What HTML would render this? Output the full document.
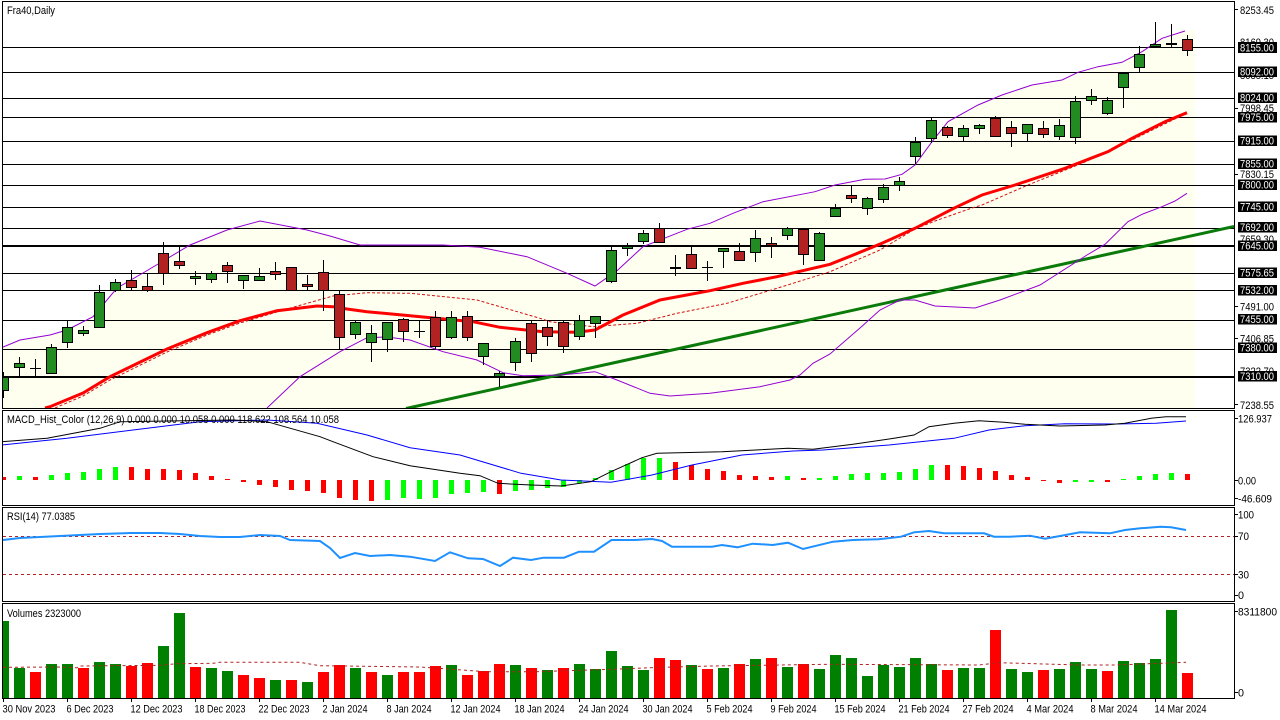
<!DOCTYPE html>
<html><head><meta charset="utf-8"><style>
html,body{margin:0;padding:0;background:#fff;}
svg{display:block;}
text{font-family:"Liberation Sans",Arial,sans-serif;font-size:11px;fill:#000;}
.g{fill:#228b22;stroke:#000;stroke-width:1;}
.r{fill:#b22222;stroke:#000;stroke-width:1;}
.w{stroke:#000;stroke-width:1;}
.vg{fill:#008000;}
.vr{fill:#ff0000;}
.hg{fill:#00ff00;}
.hr{fill:#ff0000;}
.lbl{fill:#fff;}
</style></head><body>
<svg width="1280" height="720" viewBox="0 0 1280 720" xmlns="http://www.w3.org/2000/svg">
<defs>
<clipPath id="cm"><rect x="3" y="2" width="1231" height="406"/></clipPath>
<clipPath id="cmacd"><rect x="3" y="411" width="1231" height="94"/></clipPath>
<clipPath id="cv"><rect x="3" y="604" width="1231" height="94"/></clipPath>
</defs>
<rect width="1280" height="720" fill="#fff"/>

<!-- MAIN PANEL -->
<g clip-path="url(#cm)">
<polygon fill="#fffff0" points="2,347.5 20,340 50,335 67,330 93,316.7 117,288 143,273 190,245 227,230 260,221 307,230 330,236 360,245 443,245 480,247.3 527,256.7 567,273.3 595,286 617,270.7 643,246.7 687,229.3 710,223.3 733,213.3 763,201.7 815,191.7 835,185 865,179.3 885,179 902,174.3 915,165 932,141.7 948,121.7 978,105 1002,95 1032,85 1062,80 1078,72.3 1098,66.7 1122,62.3 1142,51.7 1162,38.3 1185,31 1195,30 1195,408 2,408"/>
<g stroke="#000" stroke-width="1" shape-rendering="crispEdges">
<line x1="2" y1="47.5" x2="1234" y2="47.5"/>
<line x1="2" y1="72.5" x2="1234" y2="72.5"/>
<line x1="2" y1="98.5" x2="1234" y2="98.5"/>
<line x1="2" y1="117.5" x2="1234" y2="117.5"/>
<line x1="2" y1="141.5" x2="1234" y2="141.5"/>
<line x1="2" y1="164.5" x2="1234" y2="164.5"/>
<line x1="2" y1="185.5" x2="1234" y2="185.5"/>
<line x1="2" y1="207.5" x2="1234" y2="207.5"/>
<line x1="2" y1="228.5" x2="1234" y2="228.5"/>
<line x1="2" y1="246" x2="1234" y2="246" stroke-width="2"/>
<line x1="2" y1="273.5" x2="1234" y2="273.5"/>
<line x1="2" y1="290.5" x2="1234" y2="290.5"/>
<line x1="2" y1="320.5" x2="1234" y2="320.5"/>
<line x1="2" y1="349.5" x2="1234" y2="349.5"/>
<line x1="2" y1="377" x2="1234" y2="377" stroke-width="2"/>
</g>
<line x1="406" y1="408.5" x2="1234" y2="226.5" stroke="#0a7a0a" stroke-width="3"/>
<polyline fill="none" stroke="#9400d3" stroke-width="1" points="2,347.5 20,340 50,335 67,330 93,316.7 117,288 143,273 190,245 227,230 260,221 307,230 330,236 360,245 443,245 480,247.3 527,256.7 567,273.3 595,286 617,270.7 643,246.7 687,229.3 710,223.3 733,213.3 763,201.7 815,191.7 835,185 865,179.3 885,179 902,174.3 915,165 932,141.7 948,121.7 978,105 1002,95 1032,85 1062,80 1078,72.3 1098,66.7 1122,62.3 1142,51.7 1162,38.3 1185,31"/>
<polyline fill="none" stroke="#9400d3" stroke-width="1" points="267,408 300,376.7 340,351.7 367,337.7 387,337 410,340 443,351.7 477,360 503,372.7 523,375.7 560,375 595,371.7 617,380 650,393.3 670,396 710,393.3 760,386.7 790,380 800,375 813,363.3 830,354 860,328 880,310 900,300 915,300 935,306 975,308 1000,300 1040,285 1087,255 1105,244.3 1128,221.7 1142,214.3 1162,206.7 1175,201 1187,193.3"/>
<polyline fill="none" stroke="#d01010" stroke-width="1" stroke-dasharray="3,2" points="55,408 83,396 110,380 167,352 207,335 240,323 287,309 333,296 367,292.7 410,293.3 477,300 540,318.3 550,321.7 593,326.7 637,323.3 677,313.3 727,303.3 777,288.3 830,271.7 880,250 915,229 935,221 972,208 982,205 1028,185 1082,163.3 1115,148.3 1187,113"/>
<polyline fill="none" stroke="#ff0000" stroke-width="3" points="45,408 50,406.7 83,393 110,376.7 167,349 207,332.7 240,320.7 277,310.7 317,306 333,306.7 347,309 367,311.7 410,315.7 473,321.7 500,327.3 543,331.7 577,332.3 595,330 623,315 660,300 710,290.7 743,283.3 777,276.7 830,264.3 855,254.3 882,243.3 915,228.3 955,207.7 982,195 1015,185 1065,168.3 1108,151.7 1132,138.3 1165,121.7 1187,112.7"/>

<!-- candles -->
<g shape-rendering="crispEdges">
<line class="w" x1="3.5" y1="372" x2="3.5" y2="398"/><rect class="g" x="-1.5" y="377.5" width="10" height="13"/>
<line class="w" x1="19.5" y1="357" x2="19.5" y2="376"/><rect class="g" x="14.5" y="363.5" width="10" height="4"/>
<line class="w" x1="35.5" y1="359" x2="35.5" y2="376"/><line class="w" x1="30" y1="368.5" x2="41" y2="368.5"/>
<line class="w" x1="51.5" y1="344" x2="51.5" y2="373"/><rect class="g" x="46.5" y="347.5" width="10" height="26"/>
<line class="w" x1="67.5" y1="320" x2="67.5" y2="348"/><rect class="g" x="62.5" y="327.5" width="10" height="15"/>
<line class="w" x1="83.5" y1="326" x2="83.5" y2="336"/><rect class="g" x="78.5" y="330.5" width="10" height="3"/>
<line class="w" x1="99.5" y1="285" x2="99.5" y2="328"/><rect class="g" x="94.5" y="292.5" width="10" height="35"/>
<line class="w" x1="115.5" y1="279" x2="115.5" y2="292"/><rect class="g" x="110.5" y="282.5" width="10" height="8"/>
<line class="w" x1="131.5" y1="270" x2="131.5" y2="290"/><rect class="r" x="126.5" y="280.5" width="10" height="7"/>
<line class="w" x1="147.5" y1="273" x2="147.5" y2="292"/><rect class="r" x="142.5" y="286.5" width="10" height="4"/>
<line class="w" x1="163.5" y1="242" x2="163.5" y2="285"/><rect class="r" x="158.5" y="253.5" width="10" height="20"/>
<line class="w" x1="179.5" y1="246" x2="179.5" y2="269"/><rect class="r" x="174.5" y="261.5" width="10" height="4"/>
<line class="w" x1="195.5" y1="271" x2="195.5" y2="285"/><rect class="g" x="190.5" y="276.5" width="10" height="2"/>
<line class="w" x1="211.5" y1="271" x2="211.5" y2="283"/><rect class="g" x="206.5" y="273.5" width="10" height="6"/>
<line class="w" x1="227.5" y1="262" x2="227.5" y2="283"/><rect class="r" x="222.5" y="265.5" width="10" height="6"/>
<line class="w" x1="243.5" y1="275" x2="243.5" y2="289"/><rect class="g" x="238.5" y="275.5" width="10" height="5"/>
<line class="w" x1="259.5" y1="268" x2="259.5" y2="281"/><rect class="g" x="254.5" y="276.5" width="10" height="4"/>
<line class="w" x1="275.5" y1="262" x2="275.5" y2="280"/><rect class="r" x="270.5" y="271.5" width="10" height="3"/>
<line class="w" x1="291.5" y1="267" x2="291.5" y2="290"/><rect class="r" x="286.5" y="267.5" width="10" height="23"/>
<line class="w" x1="307.5" y1="275" x2="307.5" y2="290"/><rect class="r" x="302.5" y="284.5" width="10" height="2"/>
<line class="w" x1="323.5" y1="260" x2="323.5" y2="311"/><rect class="r" x="318.5" y="272.5" width="10" height="18"/>
<line class="w" x1="339.5" y1="290" x2="339.5" y2="349"/><rect class="r" x="334.5" y="294.5" width="10" height="43"/>
<line class="w" x1="355.5" y1="321" x2="355.5" y2="339"/><rect class="g" x="350.5" y="322.5" width="10" height="12"/>
<line class="w" x1="371.5" y1="325" x2="371.5" y2="362"/><rect class="g" x="366.5" y="333.5" width="10" height="9"/>
<line class="w" x1="387.5" y1="322" x2="387.5" y2="352"/><rect class="g" x="382.5" y="322.5" width="10" height="17"/>
<line class="w" x1="403.5" y1="318" x2="403.5" y2="342"/><rect class="r" x="398.5" y="319.5" width="10" height="12"/>
<line class="w" x1="419.5" y1="321" x2="419.5" y2="338"/><line class="w" x1="414" y1="331.5" x2="425" y2="331.5"/>
<line class="w" x1="435.5" y1="311" x2="435.5" y2="349"/><rect class="r" x="430.5" y="317.5" width="10" height="29"/>
<line class="w" x1="451.5" y1="311" x2="451.5" y2="339"/><rect class="g" x="446.5" y="317.5" width="10" height="20"/>
<line class="w" x1="467.5" y1="311" x2="467.5" y2="341"/><rect class="r" x="462.5" y="316.5" width="10" height="21"/>
<line class="w" x1="483.5" y1="343" x2="483.5" y2="365"/><rect class="g" x="478.5" y="343.5" width="10" height="13"/>
<line class="w" x1="499.5" y1="371" x2="499.5" y2="387"/><rect class="g" x="494.5" y="373.5" width="10" height="3"/>
<line class="w" x1="515.5" y1="338" x2="515.5" y2="371"/><rect class="g" x="510.5" y="341.5" width="10" height="21"/>
<line class="w" x1="531.5" y1="321" x2="531.5" y2="362"/><rect class="r" x="526.5" y="323.5" width="10" height="30"/>
<line class="w" x1="547.5" y1="321" x2="547.5" y2="346"/><rect class="r" x="542.5" y="327.5" width="10" height="9"/>
<line class="w" x1="563.5" y1="321" x2="563.5" y2="353"/><rect class="r" x="558.5" y="322.5" width="10" height="24"/>
<line class="w" x1="579.5" y1="315" x2="579.5" y2="340"/><rect class="g" x="574.5" y="320.5" width="10" height="16"/>
<line class="w" x1="595.5" y1="316" x2="595.5" y2="338"/><rect class="g" x="590.5" y="316.5" width="10" height="7"/>
<line class="w" x1="611.5" y1="247" x2="611.5" y2="283"/><rect class="g" x="606.5" y="250.5" width="10" height="31"/>
<line class="w" x1="627.5" y1="243" x2="627.5" y2="256"/><rect class="g" x="622.5" y="246.5" width="10" height="2"/>
<line class="w" x1="643.5" y1="230" x2="643.5" y2="244"/><rect class="g" x="638.5" y="233.5" width="10" height="8"/>
<line class="w" x1="659.5" y1="223" x2="659.5" y2="243"/><rect class="r" x="654.5" y="228.5" width="10" height="14"/>
<line class="w" x1="675.5" y1="255" x2="675.5" y2="276"/><line x1="670" y1="268" x2="681" y2="268" stroke="#000" stroke-width="2"/>
<line class="w" x1="691.5" y1="247" x2="691.5" y2="269"/><rect class="r" x="686.5" y="254.5" width="10" height="14"/>
<line class="w" x1="707.5" y1="261" x2="707.5" y2="281"/><line class="w" x1="702" y1="267.5" x2="713" y2="267.5"/>
<line class="w" x1="723.5" y1="248" x2="723.5" y2="268"/><rect class="g" x="718.5" y="248.5" width="10" height="3"/>
<line class="w" x1="739.5" y1="243" x2="739.5" y2="261"/><rect class="r" x="734.5" y="251.5" width="10" height="9"/>
<line class="w" x1="755.5" y1="230" x2="755.5" y2="262"/><rect class="g" x="750.5" y="238.5" width="10" height="14"/>
<line class="w" x1="771.5" y1="237" x2="771.5" y2="258"/><rect class="r" x="766.5" y="243.5" width="10" height="2"/>
<line class="w" x1="787.5" y1="227" x2="787.5" y2="240"/><rect class="g" x="782.5" y="228.5" width="10" height="7"/>
<line class="w" x1="803.5" y1="229" x2="803.5" y2="265"/><rect class="r" x="798.5" y="229.5" width="10" height="25"/>
<line class="w" x1="819.5" y1="232" x2="819.5" y2="261"/><rect class="g" x="814.5" y="233.5" width="10" height="27"/>
<line class="w" x1="835.5" y1="204" x2="835.5" y2="216"/><rect class="g" x="830.5" y="208.5" width="10" height="8"/>
<line class="w" x1="851.5" y1="186" x2="851.5" y2="203"/><rect class="r" x="846.5" y="195.5" width="10" height="3"/>
<line class="w" x1="867.5" y1="197" x2="867.5" y2="215"/><rect class="g" x="862.5" y="198.5" width="10" height="10"/>
<line class="w" x1="883.5" y1="184" x2="883.5" y2="203"/><rect class="g" x="878.5" y="187.5" width="10" height="12"/>
<line class="w" x1="899.5" y1="177" x2="899.5" y2="191"/><rect class="g" x="894.5" y="181.5" width="10" height="4"/>
<line class="w" x1="915.5" y1="137" x2="915.5" y2="164"/><rect class="g" x="910.5" y="142.5" width="10" height="14"/>
<line class="w" x1="931.5" y1="118" x2="931.5" y2="143"/><rect class="g" x="926.5" y="120.5" width="10" height="18"/>
<line class="w" x1="947.5" y1="126" x2="947.5" y2="138"/><rect class="r" x="942.5" y="127.5" width="10" height="8"/>
<line class="w" x1="963.5" y1="125" x2="963.5" y2="141"/><rect class="g" x="958.5" y="128.5" width="10" height="8"/>
<line class="w" x1="979.5" y1="124" x2="979.5" y2="134"/><rect class="g" x="974.5" y="125.5" width="10" height="3"/>
<line class="w" x1="995.5" y1="116" x2="995.5" y2="136"/><rect class="r" x="990.5" y="118.5" width="10" height="18"/>
<line class="w" x1="1011.5" y1="121" x2="1011.5" y2="147"/><rect class="r" x="1006.5" y="127.5" width="10" height="6"/>
<line class="w" x1="1027.5" y1="124" x2="1027.5" y2="141"/><rect class="g" x="1022.5" y="124.5" width="10" height="9"/>
<line class="w" x1="1043.5" y1="121" x2="1043.5" y2="138"/><rect class="r" x="1038.5" y="128.5" width="10" height="6"/>
<line class="w" x1="1059.5" y1="119" x2="1059.5" y2="140"/><rect class="g" x="1054.5" y="125.5" width="10" height="11"/>
<line class="w" x1="1075.5" y1="96" x2="1075.5" y2="144"/><rect class="g" x="1070.5" y="101.5" width="10" height="36"/>
<line class="w" x1="1091.5" y1="89" x2="1091.5" y2="105"/><rect class="g" x="1086.5" y="96.5" width="10" height="4"/>
<line class="w" x1="1107.5" y1="97" x2="1107.5" y2="115"/><rect class="g" x="1102.5" y="100.5" width="10" height="13"/>
<line class="w" x1="1123.5" y1="72" x2="1123.5" y2="108"/><rect class="g" x="1118.5" y="73.5" width="10" height="14"/>
<line class="w" x1="1139.5" y1="46" x2="1139.5" y2="72"/><rect class="g" x="1134.5" y="54.5" width="10" height="13"/>
<line class="w" x1="1155.5" y1="22" x2="1155.5" y2="47"/><rect class="g" x="1150.5" y="44.5" width="10" height="2"/>
<line class="w" x1="1171.5" y1="24" x2="1171.5" y2="47"/><line x1="1166" y1="44" x2="1177" y2="44" stroke="#000" stroke-width="2"/>
<line class="w" x1="1187.5" y1="35" x2="1187.5" y2="56"/><rect class="r" x="1182.5" y="39.5" width="10" height="11"/>
</g>
</g>
<text x="7" y="14" textLength="48" lengthAdjust="spacingAndGlyphs">Fra40,Daily</text>

<!-- MACD PANEL -->
<g clip-path="url(#cmacd)" shape-rendering="crispEdges">
<rect class="hr" x="1" y="477" width="5" height="3"/>
<rect class="hg" x="17" y="476" width="5" height="4"/>
<rect class="hr" x="33" y="477" width="5" height="3"/>
<rect class="hg" x="49" y="475" width="5" height="5"/>
<rect class="hg" x="65" y="473" width="5" height="7"/>
<rect class="hg" x="81" y="472" width="5" height="8"/>
<rect class="hg" x="97" y="469" width="5" height="11"/>
<rect class="hg" x="113" y="467" width="5" height="13"/>
<rect class="hr" x="129" y="467" width="5" height="13"/>
<rect class="hr" x="145" y="469" width="5" height="11"/>
<rect class="hr" x="161" y="469" width="5" height="11"/>
<rect class="hr" x="177" y="470" width="5" height="10"/>
<rect class="hr" x="193" y="473" width="5" height="7"/>
<rect class="hr" x="209" y="476" width="5" height="4"/>
<rect class="hr" x="225" y="479" width="5" height="1"/>
<rect class="hr" x="241" y="480" width="5" height="2"/>
<rect class="hr" x="257" y="480" width="5" height="5"/>
<rect class="hr" x="273" y="480" width="5" height="7"/>
<rect class="hr" x="289" y="480" width="5" height="10"/>
<rect class="hr" x="305" y="480" width="5" height="11"/>
<rect class="hr" x="321" y="480" width="5" height="13"/>
<rect class="hr" x="337" y="480" width="5" height="18"/>
<rect class="hr" x="353" y="480" width="5" height="20"/>
<rect class="hr" x="369" y="480" width="5" height="21"/>
<rect class="hg" x="385" y="480" width="5" height="20"/>
<rect class="hg" x="401" y="480" width="5" height="18"/>
<rect class="hg" x="417" y="480" width="5" height="19"/>
<rect class="hg" x="433" y="480" width="5" height="18"/>
<rect class="hg" x="449" y="480" width="5" height="14"/>
<rect class="hg" x="465" y="480" width="5" height="13"/>
<rect class="hg" x="481" y="480" width="5" height="12"/>
<rect class="hr" x="497" y="480" width="5" height="14"/>
<rect class="hg" x="513" y="480" width="5" height="11"/>
<rect class="hg" x="529" y="480" width="5" height="10"/>
<rect class="hg" x="545" y="480" width="5" height="8"/>
<rect class="hg" x="561" y="480" width="5" height="7"/>
<rect class="hg" x="577" y="480" width="5" height="3"/>
<rect class="hg" x="593" y="478" width="5" height="2"/>
<rect class="hg" x="609" y="470" width="5" height="10"/>
<rect class="hg" x="625" y="464" width="5" height="16"/>
<rect class="hg" x="641" y="458" width="5" height="22"/>
<rect class="hg" x="657" y="458" width="5" height="22"/>
<rect class="hr" x="673" y="462" width="5" height="18"/>
<rect class="hr" x="689" y="465" width="5" height="15"/>
<rect class="hr" x="705" y="469" width="5" height="11"/>
<rect class="hr" x="721" y="471" width="5" height="9"/>
<rect class="hr" x="737" y="475" width="5" height="5"/>
<rect class="hr" x="753" y="476" width="5" height="4"/>
<rect class="hr" x="769" y="477" width="5" height="3"/>
<rect class="hg" x="785" y="476" width="5" height="4"/>
<rect class="hr" x="801" y="478" width="5" height="2"/>
<rect class="hg" x="817" y="478" width="5" height="2"/>
<rect class="hg" x="833" y="476" width="5" height="4"/>
<rect class="hg" x="849" y="474" width="5" height="6"/>
<rect class="hg" x="865" y="473" width="5" height="7"/>
<rect class="hg" x="881" y="473" width="5" height="7"/>
<rect class="hg" x="897" y="472" width="5" height="8"/>
<rect class="hg" x="913" y="469" width="5" height="11"/>
<rect class="hg" x="929" y="465" width="5" height="15"/>
<rect class="hr" x="945" y="465" width="5" height="15"/>
<rect class="hr" x="961" y="466" width="5" height="14"/>
<rect class="hr" x="977" y="468" width="5" height="12"/>
<rect class="hr" x="993" y="471" width="5" height="9"/>
<rect class="hr" x="1009" y="475" width="5" height="5"/>
<rect class="hr" x="1025" y="477" width="5" height="3"/>
<rect class="hr" x="1041" y="480" width="5" height="1"/>
<rect class="hr" x="1057" y="480" width="5" height="3"/>
<rect class="hg" x="1073" y="480" width="5" height="2"/>
<rect class="hg" x="1089" y="480" width="5" height="2"/>
<rect class="hr" x="1105" y="480" width="5" height="2"/>
<rect class="hg" x="1121" y="479" width="5" height="1"/>
<rect class="hg" x="1137" y="476" width="5" height="4"/>
<rect class="hg" x="1153" y="474" width="5" height="6"/>
<rect class="hg" x="1169" y="473" width="5" height="7"/>
<rect class="hr" x="1185" y="474" width="5" height="6"/>
</g>
<g clip-path="url(#cmacd)">
<polyline fill="none" stroke="#0000ff" stroke-width="1" points="2,445 67,438.3 133,430 200,421.7 267,420 317,423.3 367,435 410,447.7 460,455 521,473.3 561,480 611,482.3 652,475 692,465 742,455 793,451 823,450 889,445 954,438.3 989,430 1025,425.7 1065,423.7 1115,424 1156,423.3 1186,421"/>
<polyline fill="none" stroke="#000" stroke-width="1" points="2,441.7 47,438.3 100,428.3 120,421.7 233,420 267,421.7 320,436.7 333,441.7 373,456.7 410,465.7 460,473.3 480,475.7 498,483.3 531,485 561,486 591,481.7 611,471.7 642,457.7 657,453.3 722,451.7 788,448.3 813,449.3 853,444.3 894,438.3 914,435 929,426.7 954,423.3 979,420.7 1004,422.3 1025,424.3 1060,426 1105,425 1125,423.3 1151,418.3 1166,416.7 1186,416.7"/>
</g>
<text x="7" y="423" textLength="332" lengthAdjust="spacingAndGlyphs">MACD_Hist_Color (12,26,9) 0.000 0.000 10.058 0.000 118.622 108.564 10.058</text>

<!-- RSI PANEL -->
<line x1="3" y1="536.5" x2="1234" y2="536.5" stroke="#b22222" stroke-width="1" stroke-dasharray="3,3"/>
<line x1="3" y1="574.5" x2="1234" y2="574.5" stroke="#b22222" stroke-width="1" stroke-dasharray="3,3"/>
<polyline fill="none" stroke="#1e90ff" stroke-width="2" points="3,540 20,538 40,537 60,536 80,535 100,534 130,533 160,533 180,534 200,536 220,537 240,537 260,535 280,536 290,540 320,541 330,548 340,558 355,553 370,556 390,555 410,556.7 435,561 450,552.3 468,558.3 483,559 500,566 513,557.7 531,560 543.5,557.7 564,557.7 579,551.7 594,551.7 611.5,540 634,540 652,539 662,541 672,546.7 712,546.7 722,545 737.5,547.3 752.6,543.7 772.7,545 788,542.7 803,549 833,541.7 853,540 878.5,539.3 901,536.7 914,532.3 929,531 944,533.3 984,533.3 994,536.7 1009.5,536.7 1030,535.7 1045,538.7 1060,536 1080,532.3 1110,533.3 1125,530 1140.5,528.3 1160.6,526.7 1171,527.3 1186,530"/>
<text x="7" y="520" textLength="68" lengthAdjust="spacingAndGlyphs">RSI(14) 77.0385</text>

<!-- VOLUME PANEL -->
<g clip-path="url(#cv)" shape-rendering="crispEdges">
<rect class="vg" x="-2" y="621" width="11" height="77"/>
<rect class="vg" x="14" y="668" width="11" height="30"/>
<rect class="vr" x="30" y="672" width="11" height="26"/>
<rect class="vg" x="46" y="664" width="11" height="34"/>
<rect class="vg" x="62" y="664" width="11" height="34"/>
<rect class="vr" x="78" y="668" width="11" height="30"/>
<rect class="vg" x="94" y="662" width="11" height="36"/>
<rect class="vg" x="110" y="664" width="11" height="34"/>
<rect class="vr" x="126" y="666" width="11" height="32"/>
<rect class="vr" x="142" y="663" width="11" height="35"/>
<rect class="vg" x="158" y="646" width="11" height="52"/>
<rect class="vg" x="174" y="613" width="11" height="85"/>
<rect class="vr" x="190" y="667" width="11" height="31"/>
<rect class="vg" x="206" y="668" width="11" height="30"/>
<rect class="vg" x="222" y="671" width="11" height="27"/>
<rect class="vr" x="238" y="675" width="11" height="23"/>
<rect class="vr" x="254" y="678" width="11" height="20"/>
<rect class="vg" x="270" y="680" width="11" height="18"/>
<rect class="vr" x="286" y="680" width="11" height="18"/>
<rect class="vg" x="302" y="682" width="11" height="16"/>
<rect class="vr" x="318" y="672" width="11" height="26"/>
<rect class="vr" x="334" y="665" width="11" height="33"/>
<rect class="vg" x="350" y="668" width="11" height="30"/>
<rect class="vr" x="366" y="672" width="11" height="26"/>
<rect class="vg" x="382" y="675" width="11" height="23"/>
<rect class="vr" x="398" y="672" width="11" height="26"/>
<rect class="vr" x="414" y="672" width="11" height="26"/>
<rect class="vr" x="430" y="666" width="11" height="32"/>
<rect class="vg" x="446" y="665" width="11" height="33"/>
<rect class="vr" x="462" y="675" width="11" height="23"/>
<rect class="vr" x="478" y="671" width="11" height="27"/>
<rect class="vr" x="494" y="664" width="11" height="34"/>
<rect class="vg" x="510" y="665" width="11" height="33"/>
<rect class="vr" x="526" y="668" width="11" height="30"/>
<rect class="vg" x="542" y="670" width="11" height="28"/>
<rect class="vr" x="558" y="668" width="11" height="30"/>
<rect class="vg" x="574" y="664" width="11" height="34"/>
<rect class="vg" x="590" y="669" width="11" height="29"/>
<rect class="vg" x="606" y="651" width="11" height="47"/>
<rect class="vg" x="622" y="666" width="11" height="32"/>
<rect class="vg" x="638" y="670" width="11" height="28"/>
<rect class="vr" x="654" y="658" width="11" height="40"/>
<rect class="vr" x="670" y="660" width="11" height="38"/>
<rect class="vg" x="686" y="665" width="11" height="33"/>
<rect class="vr" x="702" y="669" width="11" height="29"/>
<rect class="vg" x="718" y="668" width="11" height="30"/>
<rect class="vr" x="734" y="664" width="11" height="34"/>
<rect class="vg" x="750" y="659" width="11" height="39"/>
<rect class="vr" x="766" y="658" width="11" height="40"/>
<rect class="vg" x="782" y="667" width="11" height="31"/>
<rect class="vr" x="798" y="664" width="11" height="34"/>
<rect class="vg" x="814" y="669" width="11" height="29"/>
<rect class="vg" x="830" y="655" width="11" height="43"/>
<rect class="vg" x="846" y="658" width="11" height="40"/>
<rect class="vg" x="862" y="676" width="11" height="22"/>
<rect class="vg" x="878" y="665" width="11" height="33"/>
<rect class="vg" x="894" y="667" width="11" height="31"/>
<rect class="vg" x="910" y="658" width="11" height="40"/>
<rect class="vg" x="926" y="664" width="11" height="34"/>
<rect class="vr" x="942" y="670" width="11" height="28"/>
<rect class="vg" x="958" y="668" width="11" height="30"/>
<rect class="vg" x="974" y="668" width="11" height="30"/>
<rect class="vr" x="990" y="630" width="11" height="68"/>
<rect class="vg" x="1006" y="669" width="11" height="29"/>
<rect class="vg" x="1022" y="672" width="11" height="26"/>
<rect class="vr" x="1038" y="670" width="11" height="28"/>
<rect class="vg" x="1054" y="669" width="11" height="29"/>
<rect class="vg" x="1070" y="662" width="11" height="36"/>
<rect class="vg" x="1086" y="669" width="11" height="29"/>
<rect class="vr" x="1102" y="671" width="11" height="27"/>
<rect class="vg" x="1118" y="661" width="11" height="37"/>
<rect class="vg" x="1134" y="663" width="11" height="35"/>
<rect class="vg" x="1150" y="659" width="11" height="39"/>
<rect class="vg" x="1166" y="610" width="11" height="88"/>
<rect class="vr" x="1182" y="673" width="11" height="25"/>
</g>
<polyline fill="none" stroke="#b22222" stroke-width="1" stroke-dasharray="3,3" points="3,667.3 57,667 77,667.7 80,666 160,665.3 177,663.7 213,663.3 220,662.3 300,662.3 320,665.7 420,667 485.6,671.7 536,671.7 611.5,669.3 662,667.3 712,666 828,664.3 979,665 999,662.7 1080,665 1115,665 1186,662.3"/>
<text x="7" y="617" textLength="74" lengthAdjust="spacingAndGlyphs">Volumes 2323000</text>

<!-- PANEL FRAMES -->
<g fill="none" stroke="#000" stroke-width="1" shape-rendering="crispEdges">
<rect x="2.5" y="1.5" width="1232" height="407"/>
<rect x="2.5" y="410.5" width="1232" height="95"/>
<rect x="2.5" y="507.5" width="1232" height="94"/>
<rect x="2.5" y="603.5" width="1232" height="95"/>
</g>

<!-- RIGHT AXIS main -->
<g stroke="#000" stroke-width="1" shape-rendering="crispEdges">
<line x1="1234" y1="9.5" x2="1238" y2="9.5"/>
<line x1="1234" y1="108.5" x2="1238" y2="108.5"/>
<line x1="1234" y1="174.5" x2="1238" y2="174.5"/>
<line x1="1234" y1="306.5" x2="1238" y2="306.5"/>
<line x1="1234" y1="338.5" x2="1238" y2="338.5"/>
<line x1="1234" y1="404.5" x2="1238" y2="404.5"/>
<line x1="1234" y1="418.5" x2="1238" y2="418.5"/>
<line x1="1234" y1="480.5" x2="1238" y2="480.5"/>
<line x1="1234" y1="498.5" x2="1238" y2="498.5"/>
<line x1="1234" y1="514.5" x2="1238" y2="514.5"/>
<line x1="1234" y1="536.5" x2="1238" y2="536.5"/>
<line x1="1234" y1="574.5" x2="1238" y2="574.5"/>
<line x1="1234" y1="595.5" x2="1238" y2="595.5"/>
<line x1="1234" y1="611.5" x2="1238" y2="611.5"/>
<line x1="1234" y1="692.5" x2="1238" y2="692.5"/>
</g>
<text x="1240" y="14" textLength="34" lengthAdjust="spacingAndGlyphs">8253.45</text>
<text x="1240" y="46" textLength="34" lengthAdjust="spacingAndGlyphs">8169.30</text>
<text x="1240" y="79" textLength="34" lengthAdjust="spacingAndGlyphs">8085.15</text>
<text x="1240" y="112" textLength="34" lengthAdjust="spacingAndGlyphs">7998.45</text>
<text x="1240" y="178" textLength="34" lengthAdjust="spacingAndGlyphs">7830.15</text>
<text x="1240" y="243" textLength="34" lengthAdjust="spacingAndGlyphs">7659.30</text>
<text x="1240" y="310.5" textLength="34" lengthAdjust="spacingAndGlyphs">7491.00</text>
<text x="1240" y="342.5" textLength="34" lengthAdjust="spacingAndGlyphs">7406.85</text>
<text x="1240" y="375" textLength="34" lengthAdjust="spacingAndGlyphs">7322.70</text>
<text x="1240" y="409" textLength="34" lengthAdjust="spacingAndGlyphs">7238.55</text>

<g fill="#000" shape-rendering="crispEdges">
<rect x="1238" y="42" width="39" height="11"/>
<rect x="1238" y="66.5" width="39" height="10.5"/>
<rect x="1238" y="92.5" width="39" height="10.5"/>
<rect x="1238" y="112" width="39" height="10.5"/>
<rect x="1238" y="135.5" width="39" height="10.5"/>
<rect x="1238" y="158.5" width="39" height="10.5"/>
<rect x="1238" y="179.5" width="39" height="10.5"/>
<rect x="1238" y="201.5" width="39" height="10.5"/>
<rect x="1238" y="222" width="39" height="10.5"/>
<rect x="1238" y="240.5" width="39" height="10.5"/>
<rect x="1238" y="267.5" width="39" height="10.5"/>
<rect x="1238" y="285" width="39" height="10.5"/>
<rect x="1238" y="314" width="39" height="10.5"/>
<rect x="1238" y="342.5" width="39" height="10.5"/>
<rect x="1238" y="371" width="39" height="10.5"/>
</g>
<g>
<text class="lbl" x="1240" y="51.5" textLength="34" lengthAdjust="spacingAndGlyphs">8155.00</text>
<text class="lbl" x="1240" y="75.5" textLength="34" lengthAdjust="spacingAndGlyphs">8092.00</text>
<text class="lbl" x="1240" y="101.5" textLength="34" lengthAdjust="spacingAndGlyphs">8024.00</text>
<text class="lbl" x="1240" y="121" textLength="34" lengthAdjust="spacingAndGlyphs">7975.00</text>
<text class="lbl" x="1240" y="144.5" textLength="34" lengthAdjust="spacingAndGlyphs">7915.00</text>
<text class="lbl" x="1240" y="167.5" textLength="34" lengthAdjust="spacingAndGlyphs">7855.00</text>
<text class="lbl" x="1240" y="188.5" textLength="34" lengthAdjust="spacingAndGlyphs">7800.00</text>
<text class="lbl" x="1240" y="210.5" textLength="34" lengthAdjust="spacingAndGlyphs">7745.00</text>
<text class="lbl" x="1240" y="231" textLength="34" lengthAdjust="spacingAndGlyphs">7692.00</text>
<text class="lbl" x="1240" y="249.5" textLength="34" lengthAdjust="spacingAndGlyphs">7645.00</text>
<text class="lbl" x="1240" y="276.5" textLength="34" lengthAdjust="spacingAndGlyphs">7575.65</text>
<text class="lbl" x="1240" y="294" textLength="34" lengthAdjust="spacingAndGlyphs">7532.00</text>
<text class="lbl" x="1240" y="323" textLength="34" lengthAdjust="spacingAndGlyphs">7455.00</text>
<text class="lbl" x="1240" y="351.5" textLength="34" lengthAdjust="spacingAndGlyphs">7380.00</text>
<text class="lbl" x="1240" y="380" textLength="34" lengthAdjust="spacingAndGlyphs">7310.00</text>
</g>

<!-- indicator axes -->
<text x="1238" y="422.5" textLength="34" lengthAdjust="spacingAndGlyphs">126.937</text>
<text x="1238" y="484.5" textLength="18" lengthAdjust="spacingAndGlyphs">0.00</text>
<text x="1238" y="502.5" textLength="34" lengthAdjust="spacingAndGlyphs">-46.609</text>
<text x="1238" y="518.5" textLength="16" lengthAdjust="spacingAndGlyphs">100</text>
<text x="1238" y="540" textLength="11" lengthAdjust="spacingAndGlyphs">70</text>
<text x="1238" y="578.5" textLength="11" lengthAdjust="spacingAndGlyphs">30</text>
<text x="1238" y="599" textLength="6" lengthAdjust="spacingAndGlyphs">0</text>
<text x="1238" y="615.5" textLength="39" lengthAdjust="spacingAndGlyphs">8311800</text>
<text x="1238" y="696.5" textLength="6" lengthAdjust="spacingAndGlyphs">0</text>

<!-- time axis -->
<g stroke="#000" stroke-width="1" shape-rendering="crispEdges">
<line x1="3.5" y1="698" x2="3.5" y2="702"/>
<line x1="67.5" y1="698" x2="67.5" y2="702"/>
<line x1="131.5" y1="698" x2="131.5" y2="702"/>
<line x1="195.5" y1="698" x2="195.5" y2="702"/>
<line x1="259.5" y1="698" x2="259.5" y2="702"/>
<line x1="323.5" y1="698" x2="323.5" y2="702"/>
<line x1="387.5" y1="698" x2="387.5" y2="702"/>
<line x1="451.5" y1="698" x2="451.5" y2="702"/>
<line x1="515.5" y1="698" x2="515.5" y2="702"/>
<line x1="579.5" y1="698" x2="579.5" y2="702"/>
<line x1="643.5" y1="698" x2="643.5" y2="702"/>
<line x1="707.5" y1="698" x2="707.5" y2="702"/>
<line x1="771.5" y1="698" x2="771.5" y2="702"/>
<line x1="835.5" y1="698" x2="835.5" y2="702"/>
<line x1="899.5" y1="698" x2="899.5" y2="702"/>
<line x1="963.5" y1="698" x2="963.5" y2="702"/>
<line x1="1027.5" y1="698" x2="1027.5" y2="702"/>
<line x1="1091.5" y1="698" x2="1091.5" y2="702"/>
<line x1="1155.5" y1="698" x2="1155.5" y2="702"/>
</g>
<g>
<text x="2.5" y="712.5" textLength="53" lengthAdjust="spacingAndGlyphs">30 Nov 2023</text>
<text x="66.5" y="712.5" textLength="47" lengthAdjust="spacingAndGlyphs">6 Dec 2023</text>
<text x="130.5" y="712.5" textLength="52" lengthAdjust="spacingAndGlyphs">12 Dec 2023</text>
<text x="194.5" y="712.5" textLength="51" lengthAdjust="spacingAndGlyphs">18 Dec 2023</text>
<text x="258.5" y="712.5" textLength="51" lengthAdjust="spacingAndGlyphs">22 Dec 2023</text>
<text x="322.5" y="712.5" textLength="45" lengthAdjust="spacingAndGlyphs">2 Jan 2024</text>
<text x="386.5" y="712.5" textLength="45" lengthAdjust="spacingAndGlyphs">8 Jan 2024</text>
<text x="450.5" y="712.5" textLength="50" lengthAdjust="spacingAndGlyphs">12 Jan 2024</text>
<text x="514.5" y="712.5" textLength="50" lengthAdjust="spacingAndGlyphs">18 Jan 2024</text>
<text x="578.5" y="712.5" textLength="50" lengthAdjust="spacingAndGlyphs">24 Jan 2024</text>
<text x="642.5" y="712.5" textLength="50" lengthAdjust="spacingAndGlyphs">30 Jan 2024</text>
<text x="706.5" y="712.5" textLength="46" lengthAdjust="spacingAndGlyphs">5 Feb 2024</text>
<text x="770.5" y="712.5" textLength="46" lengthAdjust="spacingAndGlyphs">9 Feb 2024</text>
<text x="834.5" y="712.5" textLength="51" lengthAdjust="spacingAndGlyphs">15 Feb 2024</text>
<text x="898.5" y="712.5" textLength="51" lengthAdjust="spacingAndGlyphs">21 Feb 2024</text>
<text x="962.5" y="712.5" textLength="51" lengthAdjust="spacingAndGlyphs">27 Feb 2024</text>
<text x="1026.5" y="712.5" textLength="47" lengthAdjust="spacingAndGlyphs">4 Mar 2024</text>
<text x="1090.5" y="712.5" textLength="47" lengthAdjust="spacingAndGlyphs">8 Mar 2024</text>
<text x="1154.5" y="712.5" textLength="52" lengthAdjust="spacingAndGlyphs">14 Mar 2024</text>
</g>
</svg>
</body></html>
